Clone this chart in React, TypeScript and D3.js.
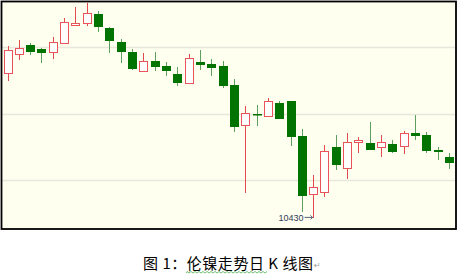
import React from "react";
import * as d3 from "d3";

// Daily LME nickel candles: open, high, low, close
const opens = [
  12610, 12895, 13030, 12970, 12925, 13060, 13330, 13360, 13495, 13285,
  13075, 12925, 12640, 12790, 12715, 12595, 12460, 12775, 12745, 12715,
  12430, 11825, 11990, 11960, 12160, 12190, 11660, 10790, 10820, 11495,
  11180, 11570, 11555, 11495, 11540, 11510, 11705, 11675, 11450, 11345,
];
const highs = [
  13015, 13105, 13060, 12985, 13150, 13435, 13600, 13660, 13540, 13300,
  13120, 12970, 12910, 12925, 12775, 12700, 12895, 12955, 12820, 12790,
  12520, 12115, 12130, 12235, 12190, 12195, 11765, 11075, 11525, 11675,
  11705, 11645, 11870, 11675, 11600, 11735, 11975, 11720, 11495, 11405,
];
const lows = [
  12490, 12805, 12880, 12760, 12820, 13045, 13315, 13315, 13225, 12910,
  12760, 12660, 12630, 12640, 12565, 12415, 12445, 12655, 12565, 12385,
  11720, 10805, 11810, 11945, 11910, 11510, 10520, 10430, 10745, 11150,
  11015, 11405, 11445, 11345, 11405, 11390, 11600, 11405, 11300, 11165,
];
const closes = [
  12955, 12985, 12925, 12910, 13075, 13375, 13360, 13510, 13300, 13090,
  12925, 12670, 12790, 12700, 12640, 12460, 12835, 12730, 12685, 12415,
  11795, 12005, 11985, 12190, 11915, 11645, 10760, 10895, 11435, 11225,
  11570, 11600, 11450, 11570, 11420, 11705, 11660, 11435, 11420, 11255,
];
const gridLevels = [11000, 12000, 13000];
const lowLabel = "10430";
const caption = "图 1：伦镍走势日 K 线图";

const W = 458;
const H = 274;

export default function App() {
  const idx = d3.range(opens.length);
  const x = d3.scalePoint<number>().domain(idx).range([7.5, 449]);
  const y = d3.scaleLinear().domain([11000, 13000]).range([180, 47]);

  const lowIdx = d3.minIndex(lows);
  const lowX = Math.round(x(lowIdx)!) + 0.5;
  const lowY = y(lows[lowIdx]);

  // wavy underline under the caption words
  const wave = d3.path();
  wave.moveTo(186, 273);
  for (let px = 186; px < 267; px += 2) {
    wave.lineTo(px + 1, (px - 186) % 4 === 0 ? 271.5 : 273);
  }

  return (
    <svg
      width={W}
      height={H}
      style={{ position: "fixed", left: 0, top: 0, background: "#ffffff" }}
    >
      <rect x={1.5} y={1.5} width={454.5} height={227.5} fill="#FFFFF0" />
      {gridLevels.map((g) => (
        <line
          key={g}
          x1={2}
          x2={455}
          y1={Math.round(y(g)) + 0.5}
          y2={Math.round(y(g)) + 0.5}
          stroke="#E7E7DC"
          strokeWidth={1.6}
        />
      ))}
      {idx.map((i) => {
        const cx = Math.round(x(i)!);
        const up = closes[i] >= opens[i];
        const top = Math.round(y(Math.max(opens[i], closes[i])));
        const bot = Math.round(y(Math.min(opens[i], closes[i])));
        const hi = Math.round(y(highs[i]));
        const lo = Math.round(y(lows[i]));
        if (up) {
          return (
            <g key={i}>
              <line x1={cx + 0.5} x2={cx + 0.5} y1={hi} y2={lo} stroke="#E24A4E" strokeWidth={1} />
              <rect
                x={cx - 4 + 0.5}
                y={top + 0.5}
                width={8}
                height={Math.max(bot - top, 1)}
                fill="#FFFFFF"
                stroke="#E9535A"
                strokeWidth={1}
              />
            </g>
          );
        }
        return (
          <g key={i}>
            <line x1={cx + 0.5} x2={cx + 0.5} y1={hi} y2={lo} stroke="#5E9E5E" strokeWidth={1} />
            <rect
              x={cx - 4}
              y={top}
              width={9}
              height={Math.max(bot - top, 1.5)}
              fill="#007300"
            />
          </g>
        );
      })}
      <text
        x={lowX - 10}
        y={lowY + 3}
        textAnchor="end"
        fontFamily="'Liberation Sans', Arial, sans-serif"
        fontSize={9}
        fill="#2E3B5A"
      >
        {lowLabel}
      </text>
      <line x1={lowX - 9} x2={lowX - 1} y1={lowY - 0.5} y2={lowY - 0.5} stroke="#2E3B5A" strokeWidth={0.8} />
      <path
        d={`M${lowX - 3},${lowY - 2.5} L${lowX - 1},${lowY - 0.5} L${lowX - 3},${lowY + 1.5}`}
        fill="none"
        stroke="#2E3B5A"
        strokeWidth={0.8}
      />
      <rect x={1.5} y={1.5} width={454.5} height={227.5} fill="none" stroke="#000000" strokeWidth={1.8} />
      <text
        x={143}
        y={269}
        fontFamily="'Noto Sans CJK SC', sans-serif"
        fontSize={15}
        textLength={170}
        lengthAdjust="spacing"
        fill="#000000"
      >
        {caption}
      </text>
      <text x={314} y={268} fontFamily="'DejaVu Sans', sans-serif" fontSize={8} fill="#999999">
        ↵
      </text>
      <path d={wave.toString()} fill="none" stroke="#4CAF50" strokeWidth={0.8} />
    </svg>
  );
}
